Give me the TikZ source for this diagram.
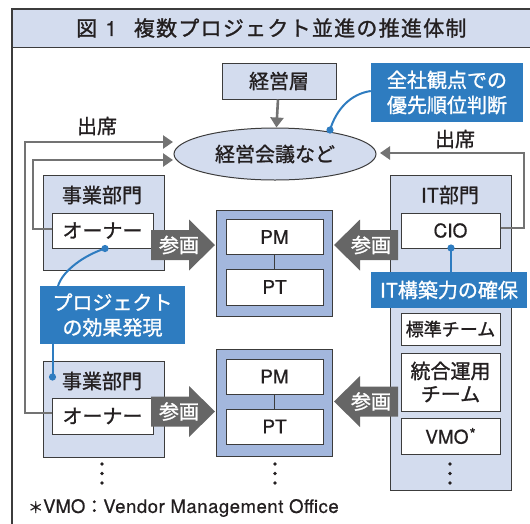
\documentclass[tikz,border=0pt]{standalone}
\usepackage{fontspec}
\setmainfont{Noto Sans CJK JP}[FakeBold=1.2]
\newfontfamily\lat{TeX Gyre Heros}[FakeBold=0.6]
\usetikzlibrary{arrows.meta,shapes.geometric}
\definecolor{paleblue}{HTML}{D3DCEE}
\definecolor{midblue}{HTML}{A3B7DD}
\definecolor{noteblue}{HTML}{2E7CC0}
\definecolor{edge}{HTML}{3C3C3C}
\definecolor{flowgray}{HTML}{737373}
\definecolor{joingray}{HTML}{666666}
\definecolor{ink}{HTML}{231F20}

% block arrow: start x, head x, tip x, centre y
\newcommand\joinarrow[4]{%
  \fill[joingray] (#1,#4-15) -- (#2,#4-15) -- (#2,#4-25.5) -- (#3,#4)
    -- (#2,#4+25.5) -- (#2,#4+15) -- (#1,#4+15) -- cycle;}

\begin{document}
\begin{tikzpicture}[x=1pt,y=-1pt,
  jp/.style={font=\fontsize{20pt}{24pt}\selectfont, text=ink},
  la/.style={font=\lat\fontsize{19pt}{22pt}\selectfont, text=ink},
  whitebox/.style={draw=edge, line width=1pt, fill=white, inner sep=0pt},
  palebox/.style={draw=edge, line width=1pt, fill=paleblue, inner sep=0pt},
  holder/.style={draw=edge, line width=1pt, fill=midblue, inner sep=0pt},
  note/.style={fill=noteblue, inner sep=0pt, text=white,
    font=\fontsize{20pt}{25pt}\selectfont, align=center},
  flow/.style={draw=flowgray, line width=2.6pt,
    -{Triangle[length=10pt,width=13pt]}},
  link/.style={draw=noteblue, line width=2pt},
  pin/.style={fill=noteblue},
  joinlabel/.style={text=white, inner sep=0pt, font=\fontsize{20pt}{24pt}\selectfont},
  vdot/.style={fill=ink}
]
\useasboundingbox (0,0) rectangle (530,523);

% frame and title bar
\fill[paleblue] (12,9) rectangle (531,47.7);
\draw[edge, line width=1.2pt] (12,524) -- (12,9) -- (531,9);
\draw[edge, line width=1.2pt] (12,47.7) -- (531,47.7);
\node[anchor=west, inner sep=0pt, text=ink, font=\fontsize{21pt}{24pt}\selectfont] (title) at (76,28)
  {図\hspace{8pt}{\lat 1}\hspace{17pt}{\addfontfeatures{LetterSpace=6}複数プロジェクト並進の推進体制}};

% top management and meeting
\node[palebox, jp, minimum width=114pt, minimum height=36pt] (top) at (279,81) {経営層};
\node[palebox, jp, ellipse, minimum width=202pt, minimum height=52pt] (meet) at (275,154) {経営会議など};

% business unit 1
\node[palebox, minimum width=121pt, minimum height=95pt] (biz1) at (103.5,222.5) {};
\node[jp, inner sep=0pt] (biz1t) at (102,195) {事業部門};
\node[whitebox, jp, minimum width=101pt, minimum height=35pt] (own1) at (102.5,230.5) {オーナー};

% business unit 2
\node[palebox, minimum width=121pt, minimum height=96pt] (biz2) at (103.5,409) {};
\node[jp, inner sep=0pt] (biz2t) at (102,381) {事業部門};
\node[whitebox, jp, minimum width=101pt, minimum height=36pt] (own2) at (102.5,416) {オーナー};

% project teams
\node[holder, minimum width=116pt, minimum height=106pt] (team1) at (274,263) {};
\node[whitebox, la, minimum width=97pt, minimum height=34.5pt] (pm1) at (274.5,237) {PM};
\node[whitebox, la, minimum width=97pt, minimum height=36pt] (pt1) at (274.5,287) {PT};
\draw[edge, line width=1pt] (pm1) -- (pt1);

\node[holder, minimum width=116pt, minimum height=107pt] (team2) at (274,402.5) {};
\node[whitebox, la, minimum width=97pt, minimum height=35pt] (pm2) at (274.5,376.5) {PM};
\node[whitebox, la, minimum width=97pt, minimum height=35pt] (pt2) at (274.5,426.5) {PT};
\draw[edge, line width=1pt] (pm2) -- (pt2);

% IT department
\node[palebox, minimum width=121pt, minimum height=315pt] (it) at (450.5,332.5) {};
\node[jp, inner sep=0pt] (itt) at (450,195) {IT部門};
\node[whitebox, la, minimum width=99pt, minimum height=35pt] (cio) at (450.5,230.5) {CIO};
\node[whitebox, font=\fontsize{18pt}{22pt}\selectfont, text=ink, minimum width=99pt, minimum height=32pt] (std) at (450.5,329) {標準チーム};
\node[whitebox, jp, align=center, minimum width=99pt, minimum height=58pt] (ops) at (450.5,382) {統合運用\\[-1pt]チーム};
\node[whitebox, la, minimum width=99pt, minimum height=36pt] (vmo) at (450.5,436)
  {VMO\hspace{1pt}\raisebox{4pt}{\fontsize{16pt}{16pt}\selectfont *}};

% attendance lines
\coordinate (m1) at (173,142);
\coordinate (m2) at (173,160);
\coordinate (m3) at (380,153);
\draw[flow] (own2.west |- 0,413) -- (25,413) -- (25,142) -- (m1);
\draw[flow] (own1.west |- 0,229) -- (33,229) -- (33,160) -- (m2);
\draw[flow] (cio.east |- 0,228) -- (524,228) -- (524,153) -- (m3);
\draw[flow] (top) -- (meet);
\node[jp, inner sep=0pt] (att1) at (97,126) {出席};
\node[jp, inner sep=0pt] (att2) at (455,139) {出席};

% participation arrows
\joinarrow{151}{189}{215}{245}
\node[joinlabel] (j1) at (179,245) {参画};
\joinarrow{398}{360}{334}{245}
\node[joinlabel] (j2) at (371,245) {参画};
\joinarrow{151}{189}{215}{411.5}
\node[joinlabel] (j3) at (179,411.5) {参画};
\joinarrow{398}{360}{334}{401.5}
\node[joinlabel] (j4) at (371,401.5) {参画};

% callouts
\node[note, minimum width=152pt, minimum height=59pt] (n1) at (447,92.5) {全社観点での\\優先順位判断};
\node[note, minimum width=156pt, minimum height=36pt] (n2) at (449,290) {IT構築力の確保};
\node[note, minimum width=145pt, minimum height=58pt] (n3) at (112.5,315) {プロジェクト\\の効果発現};

\coordinate (d1) at (330,130);
\coordinate (d2) at (451,248);
\coordinate (d3) at (105,248.5);
\coordinate (d4) at (52.5,377);
\draw[link] (d1) .. controls (336,110) and (350,94) .. (n1.west |- 0,91);
\draw[link] (d2) -- (d2 |- n2.north);
\draw[link] (d3) .. controls (85,255) and (63,270) .. (58,286);
\draw[link] (d4 |- n3.south) -- (d4);
\fill[pin] (d1) circle (3.6pt);
\fill[pin] (d2) circle (3.6pt);
\fill[pin] (d3) circle (3.6pt);
\fill[pin] (d4) circle (3.6pt);

% continuation dots
\foreach \x in {102,275,450} {
  \foreach \y in {464,473.5,483} { \fill[vdot] (\x,\y) circle (1.9pt); }
}

% footnote
\node[anchor=west, inner sep=0pt, text=ink, font=\fontsize{18pt}{22pt}\selectfont] (foot) at (28,508)
  {{\fontsize{15pt}{15pt}\selectfont ＊}{\lat\fontsize{18.5pt}{22pt}\selectfont VMO}：{\lat\fontsize{18.5pt}{22pt}\selectfont\addfontfeatures{LetterSpace=3} Vendor Management Office}};
\end{tikzpicture}
\end{document}
